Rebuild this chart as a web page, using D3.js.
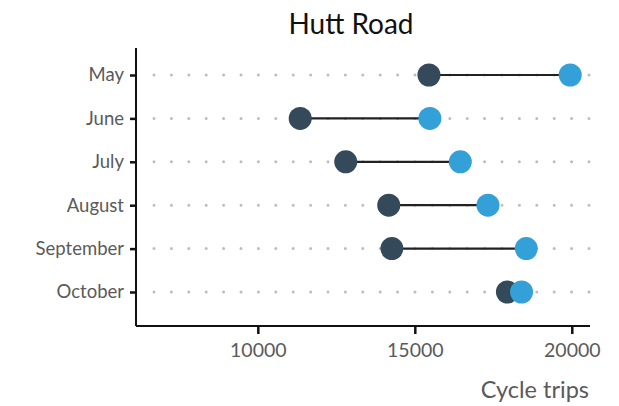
<!DOCTYPE html>
<html><head><meta charset="utf-8">
<script src="https://cdn.jsdelivr.net/npm/d3@7"></script>
<style>body{margin:0;background:#fff}svg{display:block}</style>
</head><body>
<script>
const months = ["May","June","July","August","September","October"];
const before = [15450, 11350, 12800, 14170, 14270, 17950];
const after  = [19950, 15480, 16450, 17330, 18550, 18400];
const xTicks = [10000, 15000, 20000];
const title = "Hutt Road";
const xTitle = "Cycle trips";

const W = 619, H = 406;
const svg = d3.select("body").append("svg").attr("width", W).attr("height", H);
const font = "Lato, 'Source Sans Pro', sans-serif";

const x = d3.scaleLinear().domain([6120, 20580]).range([136, 590]);
const y = d3.scalePoint().domain(months).range([75, 292]);

// title
svg.append("text").attr("x", 351).attr("y", 34).attr("text-anchor", "middle")
  .attr("font-family", font).attr("font-size", 28).attr("fill", "#111").text(title);

// dotted grid lines
svg.append("g").selectAll("line").data(months).join("line")
  .attr("x1", 154).attr("x2", 592)
  .attr("y1", d => y(d)).attr("y2", d => y(d))
  .attr("stroke", "#bdbdbd").attr("stroke-width", 3)
  .attr("stroke-linecap", "round").attr("stroke-dasharray", "0 17.4");

// axes
const yAxis = svg.append("g").attr("transform", "translate(136,0)")
  .call(d3.axisLeft(y).tickSize(6).tickPadding(6));
yAxis.select(".domain").attr("d", "M0,48V326");
const xAxis = svg.append("g").attr("transform", "translate(0,326)")
  .call(d3.axisBottom(x).tickValues(xTicks).tickFormat(d3.format("d")).tickSize(8).tickPadding(9));
xAxis.select(".domain").attr("d", "M136,0H590");
[yAxis, xAxis].forEach(a => {
  a.selectAll(".domain").attr("stroke", "#111").attr("stroke-width", 2);
  a.selectAll(".tick line").attr("stroke", "#111").attr("stroke-width", 2.5);
  a.selectAll("text").attr("font-family", font).attr("font-size", 18.5).attr("fill", "#5a5a5a");
});
xAxis.selectAll("text").attr("font-size", 19.5);

// x title
svg.append("text").attr("x", 589).attr("y", 398).attr("text-anchor", "end")
  .attr("font-family", font).attr("font-size", 23.5).attr("fill", "#5a5a5a").text(xTitle);

// connectors
const data = months.map((m, i) => ({m, a: before[i], b: after[i]}));
svg.append("g").selectAll("line").data(data).join("line")
  .attr("x1", d => x(d.a)).attr("x2", d => x(d.b))
  .attr("y1", d => y(d.m)).attr("y2", d => y(d.m))
  .attr("stroke", "#222").attr("stroke-width", 2.2);

// dots
svg.append("g").selectAll("circle").data(data).join("circle")
  .attr("cx", d => x(d.a)).attr("cy", d => y(d.m)).attr("r", 11.5).attr("fill", "#34495a");
svg.append("g").selectAll("circle").data(data).join("circle")
  .attr("cx", d => x(d.b)).attr("cy", d => y(d.m)).attr("r", 11.5).attr("fill", "#34a0d8");
</script>
</body></html>
